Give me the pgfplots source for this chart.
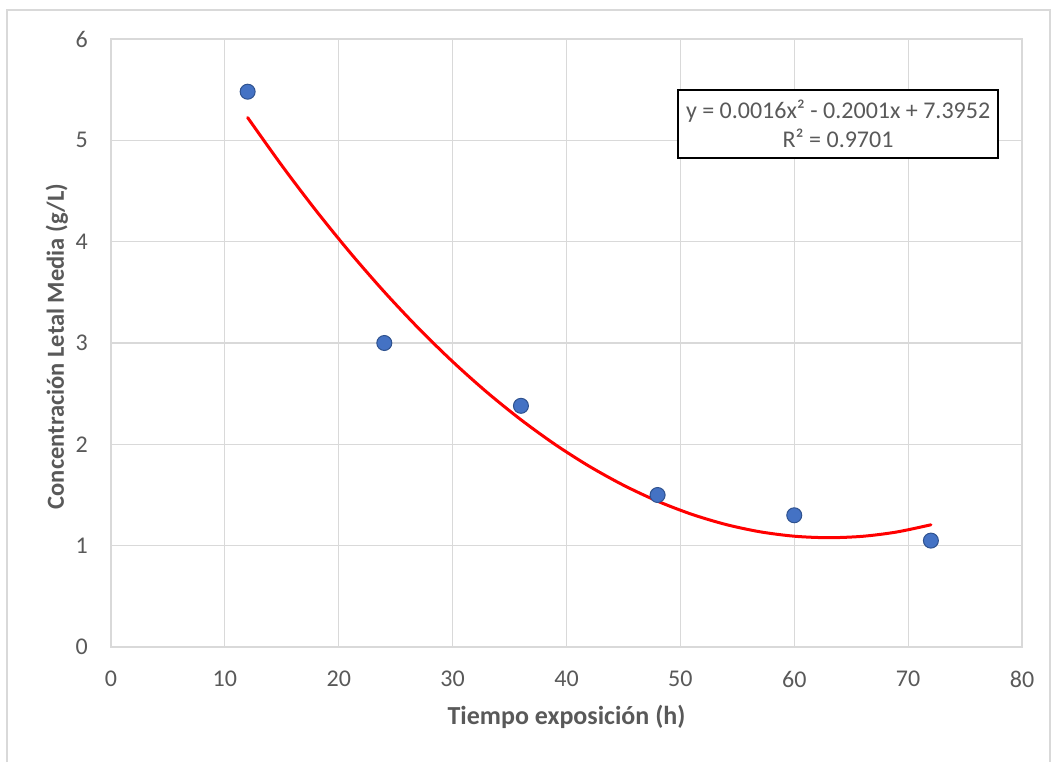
\documentclass[border=0pt]{standalone}
\usepackage{pgfplots}
\pgfplotsset{compat=1.18}
\usepackage{fontspec}
\setmainfont{Carlito}
\definecolor{gridc}{HTML}{D9D9D9}
\definecolor{txt}{HTML}{595959}
\definecolor{mfill}{HTML}{4472C4}
\definecolor{medge}{HTML}{2F528F}
\begin{document}
\begin{tikzpicture}
\begin{axis}[
  at={(0pt,0pt)}, anchor=south west,
  scale only axis, width=911pt, height=608pt,
  xmin=0, xmax=80, ymin=0, ymax=6,
  xtick={0,10,...,80}, ytick={0,1,...,6},
  grid=major, major grid style={draw=gridc, line width=1.2pt},
  axis line style={draw=gridc, line width=1.2pt},
  tick style={draw=none},
  /pgf/number format/assume math mode=true,
  ticklabel style={font=\fontsize{24}{28}\selectfont, text=txt, inner sep=0pt},
  xticklabel style={anchor=center, yshift=-32pt},
  yticklabel style={anchor=east, xshift=-23pt},
  xlabel={Tiempo exposición (h)},
  ylabel={Concentración Letal Media (g/L)},
  xlabel style={font=\fontsize{26}{30}\selectfont\bfseries, text=txt, at={(axis description cs:0.5,-0.1151)}, anchor=center},
  ylabel style={font=\fontsize{24.5}{28}\selectfont\bfseries, text=txt, at={(axis description cs:-0.0593,0.4942)}, anchor=center},
  clip=false,
]
\addplot[only marks, mark=*, mark size=7.5pt, mark options={fill=mfill, draw=medge, line width=1pt}]
  coordinates {(12,5.48) (24,3.00) (36,2.38) (48,1.50) (60,1.30) (72,1.05)};
\addplot[red, line width=3pt, smooth, line cap=round]
  coordinates {(12,5.2246) (15,4.7516) (18,4.3073) (21,3.8916) (24,3.5045) (27,3.1460)
    (30,2.8162) (33,2.5151) (36,2.2426) (39,1.9987) (42,1.7834) (45,1.5968) (48,1.4388)
    (51,1.3095) (54,1.2088) (57,1.1368) (60,1.0934) (63,1.0786) (66,1.0924) (69,1.1349) (72,1.2061)};
\node[draw=black, line width=1.3pt, fill=white, align=center, text=txt,
  font=\fontsize{24}{29}\selectfont, minimum width=320pt, minimum height=68pt, inner sep=2pt]
  at (axis cs:63.85,5.16) {y = 0.0016x² - 0.2001x + 7.3952\\R² = 0.9701};
\end{axis}
\draw[gridc, line width=1.2pt] (-104pt,-115pt) -- (-104pt,637pt) -- (939pt,637pt) -- (939pt,-115pt);
\path[use as bounding box] (-111pt,-113pt) rectangle (943pt,647pt);
\end{tikzpicture}
\end{document}
